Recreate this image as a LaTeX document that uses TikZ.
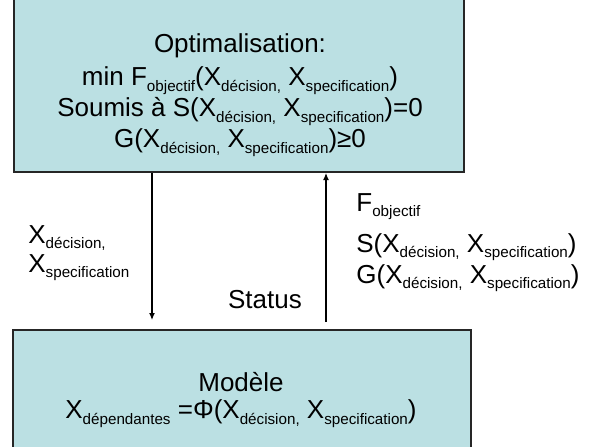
\documentclass[tikz,border=0pt]{standalone}
\usepackage{fontspec}
\setmainfont{Liberation Sans}
\usepackage{xcolor}
\usetikzlibrary{arrows.meta,positioning}
\definecolor{boxfill}{RGB}{187,224,227}
\newcommand{\sbs}[1]{\raisebox{-0.4ex}{\fontsize{7.6}{7.6}\selectfont #1}}

\begin{document}
\begin{tikzpicture}[x=0.5pt, y=-0.5pt, every node/.style={font=\fontsize{13}{15.5}\selectfont, inner sep=0pt}, bloc/.style={draw=black!85, line width=1pt, fill=boxfill}, lien/.style={line width=0.6pt, -{Latex[length=3.5pt,width=3pt]}}]
\clip (0,0) rectangle (607,446);
\node (optim) [bloc, anchor=south west, minimum width=225pt, minimum height=92pt] at (13,173) {};
\node (modele) [bloc, anchor=north west, minimum width=229pt, minimum height=70pt] at (12,329) {};
\node (opttxt) [align=center] at (240,95) {Optimalisation:\\[1pt]
min F\sbs{objectif}(X\sbs{décision,} X\sbs{specification})\\
Soumis à S(X\sbs{décision,} X\sbs{specification})=0\\
G(X\sbs{décision,} X\sbs{specification})≥0};
\node (modtxt) [align=center] at (241,400) {Modèle\\[-2pt]
X\sbs{dépendantes} =Φ(X\sbs{décision,} X\sbs{specification})};
\coordinate (dn) at (152,0);
\coordinate (up) at (326,0);
\draw[lien, shorten >=4.5pt] (optim.south -| dn) -- (modele.north -| dn);
\draw[lien, shorten <=3.5pt] (modele.north -| up) -- (optim.south -| up);
\node (vars) [align=left, anchor=west] at (28,253) {X\sbs{décision,}\\[-1pt]X\sbs{specification}};
\node (status) at (265,300) {Status};
\node (retour) [align=left, anchor=north west] at (356,193) {F\sbs{objectif}\\[5pt]
S(X\sbs{décision,} X\sbs{specification})\\
G(X\sbs{décision,} X\sbs{specification})};
\end{tikzpicture}
\end{document}
